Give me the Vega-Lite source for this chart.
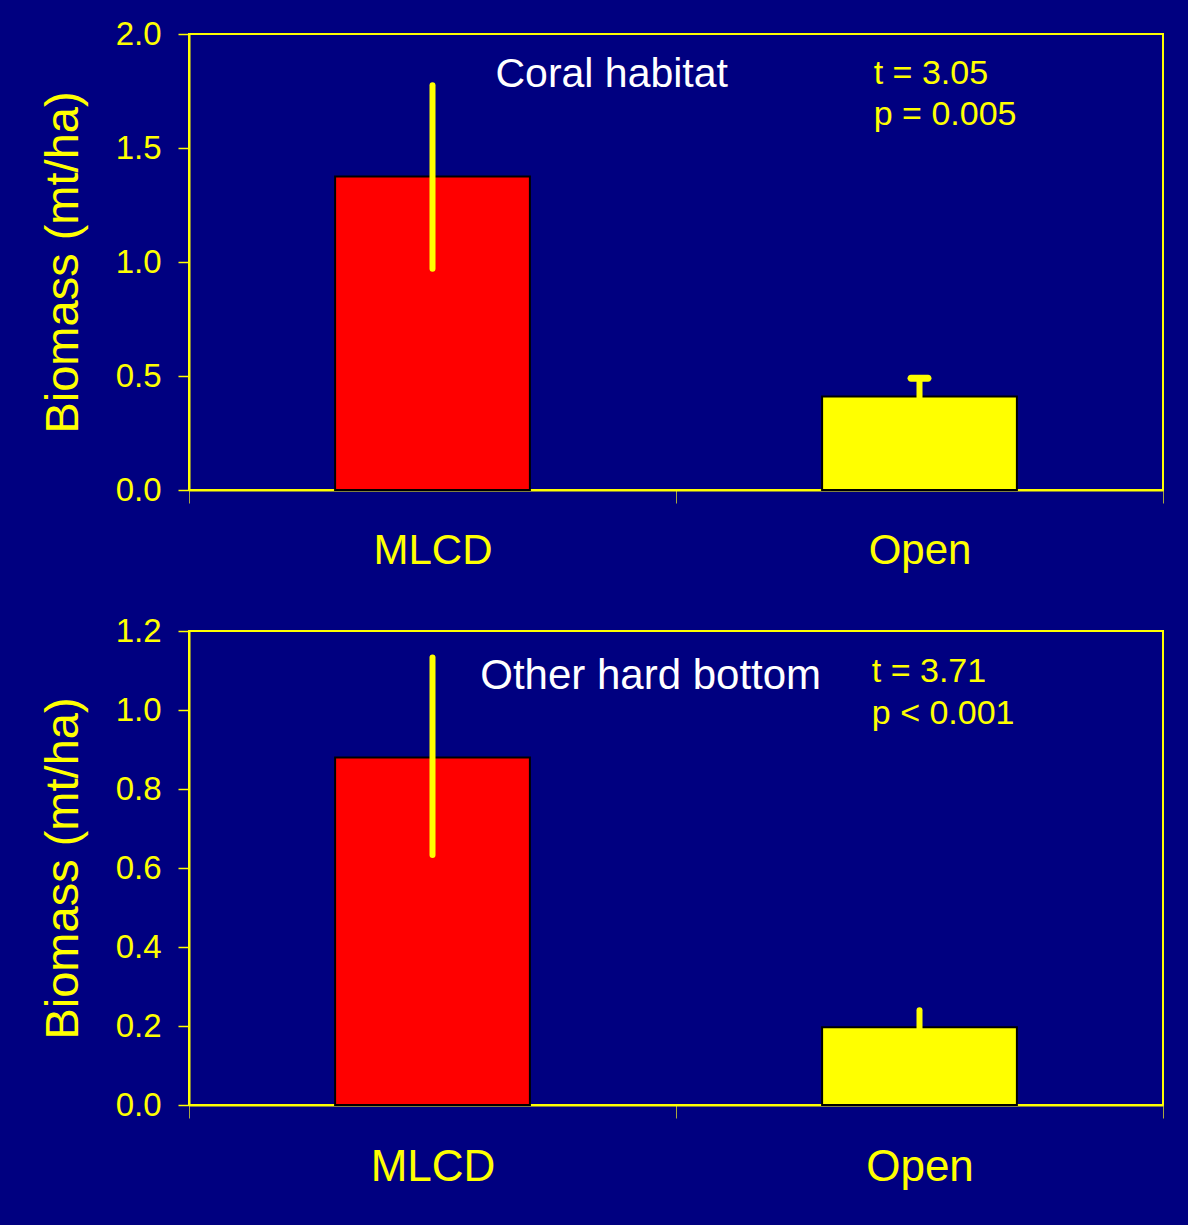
{
  "$schema": "https://vega.github.io/schema/vega-lite/v6.json",
  "background": "#000080",
  "padding": {"left": 38, "top": 17, "right": 24, "bottom": 35},
  "spacing": 42,
  "config": {
    "font": "Liberation Sans",
    "view": {"stroke": "#FFFF00", "strokeWidth": 2, "fill": "#000080"},
    "axis": {
      "domainColor": "#FFFF00", "domainWidth": 2,
      "tickColor": "#FFFF00", "tickWidth": 1.5,
      "labelColor": "#FFFF00", "titleColor": "#FFFF00",
      "labelFont": "Liberation Sans", "titleFont": "Liberation Sans",
      "grid": false, "zindex": 1
    },
    "axisY": {"tickSize": 11, "labelPadding": 17, "labelFontSize": 33, "titleFontSize": 47, "titleFontWeight": "normal", "titlePadding": 28},
    "axisX": {"tickSize": 13, "labelPadding": 27, "labelFontSize": 42, "labelAngle": 0, "tickBand": "extent", "tickColor": "#A8A840", "tickWidth": 1}
  },
  "datasets": {
    "bars": [
      {"panel": "Coral habitat", "site": "MLCD", "mean": 1.375, "lo": 0.97, "hi": 1.775, "cap": false},
      {"panel": "Coral habitat", "site": "Open", "mean": 0.41, "lo": 0.33, "hi": 0.49, "cap": true},
      {"panel": "Other hard bottom", "site": "MLCD", "mean": 0.88, "lo": 0.633, "hi": 1.133, "cap": false},
      {"panel": "Other hard bottom", "site": "Open", "mean": 0.197, "lo": 0.155, "hi": 0.24, "cap": false}
    ],
    "notes": [
      {"panel": "Coral habitat", "kind": "title", "text": "Coral habitat", "xf": 0.434, "yv": 1.82},
      {"panel": "Coral habitat", "kind": "stat", "text": "t = 3.05", "xf": 0.703, "yv": 1.825},
      {"panel": "Coral habitat", "kind": "stat", "text": "p = 0.005", "xf": 0.703, "yv": 1.645},
      {"panel": "Other hard bottom", "kind": "title", "text": "Other hard bottom", "xf": 0.474, "yv": 1.086},
      {"panel": "Other hard bottom", "kind": "stat", "text": "t = 3.71", "xf": 0.701, "yv": 1.096},
      {"panel": "Other hard bottom", "kind": "stat", "text": "p < 0.001", "xf": 0.701, "yv": 0.99}
    ]
  },
  "vconcat": [
    {
      "width": 974, "height": 456,
      "layer": [
        {
          "data": {"name": "bars"},
          "transform": [{"filter": "datum.panel == 'Coral habitat'"}],
          "encoding": {
            "x": {"field": "site", "type": "nominal", "sort": ["MLCD", "Open"], "title": null, "scale": {"paddingInner": 0, "paddingOuter": 0}},
            "y": {"type": "quantitative", "title": "Biomass (mt/ha)", "scale": {"domain": [0, 2], "nice": false}, "axis": {"values": [0, 0.5, 1, 1.5, 2], "format": ".1f"}}
          },
          "layer": [
            {
              "mark": {"type": "bar", "width": {"band": 0.4}, "stroke": "#000000", "strokeWidth": 2},
              "encoding": {
                "y": {"field": "mean", "type": "quantitative", "title": "Biomass (mt/ha)"},
                "color": {"field": "site", "type": "nominal", "scale": {"domain": ["MLCD", "Open"], "range": ["#FF0000", "#FFFF00"]}, "legend": null}
              }
            },
            {
              "mark": {"type": "rule", "color": "#FFFF00", "strokeWidth": 6, "strokeCap": "round"},
              "encoding": {
                "y": {"field": "lo", "type": "quantitative", "title": "Biomass (mt/ha)"},
                "y2": {"field": "hi"}
              }
            },
            {
              "transform": [{"filter": "datum.cap"}],
              "mark": {"type": "tick", "color": "#FFFF00", "size": 24, "thickness": 7, "cornerRadius": 3.5, "opacity": 1},
              "encoding": {
                "y": {"field": "hi", "type": "quantitative", "title": "Biomass (mt/ha)"}
              }
            }
          ]
        },
        {
          "data": {"name": "notes"},
          "transform": [{"filter": "datum.panel == 'Coral habitat' && datum.kind == 'title'"}],
          "mark": {"type": "text", "color": "#FFFFFF", "fontSize": 41, "align": "center", "baseline": "middle", "font": "Liberation Sans"},
          "encoding": {
            "x": {"field": "xf", "type": "quantitative", "scale": {"domain": [0, 1], "nice": false, "zero": false}, "axis": null},
            "y": {"field": "yv", "type": "quantitative", "title": "Biomass (mt/ha)"},
            "text": {"field": "text"}
          }
        },
        {
          "data": {"name": "notes"},
          "transform": [{"filter": "datum.panel == 'Coral habitat' && datum.kind == 'stat'"}],
          "mark": {"type": "text", "color": "#FFFF00", "fontSize": 34, "align": "left", "baseline": "middle", "font": "Liberation Sans"},
          "encoding": {
            "x": {"field": "xf", "type": "quantitative", "scale": {"domain": [0, 1], "nice": false, "zero": false}, "axis": null},
            "y": {"field": "yv", "type": "quantitative", "title": "Biomass (mt/ha)"},
            "text": {"field": "text"}
          }
        }
      ],
      "resolve": {"scale": {"x": "independent"}}
    },
    {
      "width": 974, "height": 474,
      "layer": [
        {
          "data": {"name": "bars"},
          "transform": [{"filter": "datum.panel == 'Other hard bottom'"}],
          "encoding": {
            "x": {"field": "site", "type": "nominal", "sort": ["MLCD", "Open"], "title": null, "scale": {"paddingInner": 0, "paddingOuter": 0}, "axis": {"labelFontSize": 44}},
            "y": {"type": "quantitative", "title": "Biomass (mt/ha)", "scale": {"domain": [0, 1.2], "nice": false}, "axis": {"values": [0, 0.2, 0.4, 0.6, 0.8, 1, 1.2], "format": ".1f"}}
          },
          "layer": [
            {
              "mark": {"type": "bar", "width": {"band": 0.4}, "stroke": "#000000", "strokeWidth": 2},
              "encoding": {
                "y": {"field": "mean", "type": "quantitative", "title": "Biomass (mt/ha)"},
                "color": {"field": "site", "type": "nominal", "scale": {"domain": ["MLCD", "Open"], "range": ["#FF0000", "#FFFF00"]}, "legend": null}
              }
            },
            {
              "mark": {"type": "rule", "color": "#FFFF00", "strokeWidth": 6, "strokeCap": "round"},
              "encoding": {
                "y": {"field": "lo", "type": "quantitative", "title": "Biomass (mt/ha)"},
                "y2": {"field": "hi"}
              }
            }
          ]
        },
        {
          "data": {"name": "notes"},
          "transform": [{"filter": "datum.panel == 'Other hard bottom' && datum.kind == 'title'"}],
          "mark": {"type": "text", "color": "#FFFFFF", "fontSize": 42, "align": "center", "baseline": "middle", "font": "Liberation Sans"},
          "encoding": {
            "x": {"field": "xf", "type": "quantitative", "scale": {"domain": [0, 1], "nice": false, "zero": false}, "axis": null},
            "y": {"field": "yv", "type": "quantitative", "title": "Biomass (mt/ha)"},
            "text": {"field": "text"}
          }
        },
        {
          "data": {"name": "notes"},
          "transform": [{"filter": "datum.panel == 'Other hard bottom' && datum.kind == 'stat'"}],
          "mark": {"type": "text", "color": "#FFFF00", "fontSize": 34, "align": "left", "baseline": "middle", "font": "Liberation Sans"},
          "encoding": {
            "x": {"field": "xf", "type": "quantitative", "scale": {"domain": [0, 1], "nice": false, "zero": false}, "axis": null},
            "y": {"field": "yv", "type": "quantitative", "title": "Biomass (mt/ha)"},
            "text": {"field": "text"}
          }
        }
      ],
      "resolve": {"scale": {"x": "independent"}}
    }
  ]
}
